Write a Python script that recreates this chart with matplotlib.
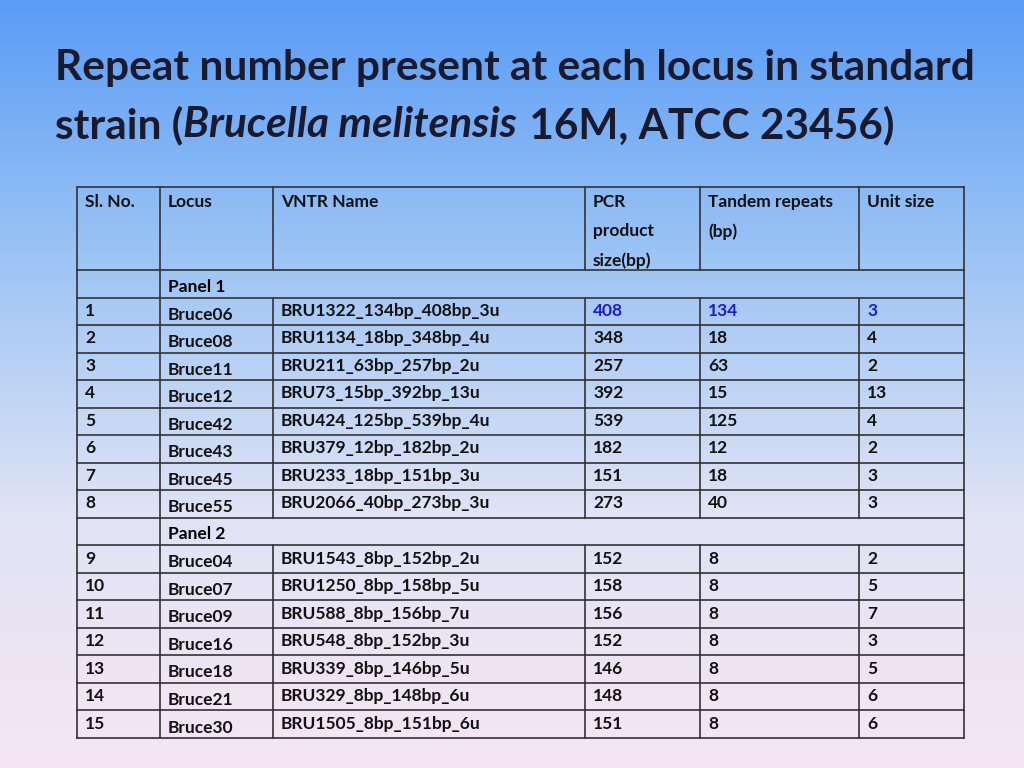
import numpy as np
import matplotlib.pyplot as plt
from matplotlib.colors import LinearSegmentedColormap

title_line1 = "Repeat number present at each locus in standard"
title_parts = [("strain (", 'normal'), ("Brucella melitensis", 'italic'), (" 16M, ATCC 23456)", 'normal')]
header = ["Sl. No.", "Locus", "VNTR Name", "PCR\nproduct\nsize(bp)", "Tandem repeats\n(bp)", "Unit size"]

sl_no = [str(i) for i in range(1, 16)]
locus = ["Bruce06", "Bruce08", "Bruce11", "Bruce12", "Bruce42", "Bruce43", "Bruce45", "Bruce55",
         "Bruce04", "Bruce07", "Bruce09", "Bruce16", "Bruce18", "Bruce21", "Bruce30"]
vntr = ["BRU1322_134bp_408bp_3u", "BRU1134_18bp_348bp_4u", "BRU211_63bp_257bp_2u",
        "BRU73_15bp_392bp_13u", "BRU424_125bp_539bp_4u", "BRU379_12bp_182bp_2u",
        "BRU233_18bp_151bp_3u", "BRU2066_40bp_273bp_3u",
        "BRU1543_8bp_152bp_2u", "BRU1250_8bp_158bp_5u", "BRU588_8bp_156bp_7u",
        "BRU548_8bp_152bp_3u", "BRU339_8bp_146bp_5u", "BRU329_8bp_148bp_6u", "BRU1505_8bp_151bp_6u"]
pcr = [408, 348, 257, 392, 539, 182, 151, 273, 152, 158, 156, 152, 146, 148, 151]
tandem = [134, 18, 63, 15, 125, 12, 18, 40, 8, 8, 8, 8, 8, 8, 8]
unit = [3, 4, 2, 13, 4, 2, 3, 3, 2, 5, 7, 3, 5, 6, 6]
panels = {0: "Panel 1", 8: "Panel 2"}

plt.rcParams['font.family'] = ['Lato', 'DejaVu Sans']
fig = plt.figure(figsize=(10.24, 7.68), dpi=100)
ax = fig.add_axes([0, 0, 1, 1])
ax.set_xlim(0, 1024)
ax.set_ylim(768, 0)
ax.axis('off')

cmap = LinearSegmentedColormap.from_list('bg', ['#5a9cf6', '#9cc4f4', '#dfe3f5', '#f6e6f3'])
grad = np.linspace(0, 1, 256).reshape(-1, 1)
ax.imshow(grad, cmap=cmap, extent=[0, 1024, 768, 0], aspect='auto', zorder=0)

tfs = 30.5
tcol = '#1a1a2e'
ax.text(55, 68, title_line1, fontsize=tfs, fontweight='bold', color=tcol, va='center')
# second title line built from pieces so the italic part stays bold
fig.canvas.draw()
renderer = fig.canvas.get_renderer()
x = 55
for s, style in title_parts:
    t = ax.text(x, 125, s, fontsize=tfs, fontweight='bold', style=style, color=tcol, va='center')
    bb = t.get_window_extent(renderer)
    x += bb.width * 1024 / fig.bbox.width
    if style == 'italic':
        x += 2

xs = [77, 160, 273, 585, 700, 859, 964]
top, hb, bottom = 187, 270, 738
nrows = 17
rh = (bottom - hb) / nrows
lc = '#333333'
lw = 1.2
fs = 12.5

ax.plot([xs[0], xs[-1]], [top, top], color=lc, lw=lw)
for x in xs:
    ax.plot([x, x], [top, hb], color=lc, lw=lw)
for x in (xs[0], xs[1], xs[-1]):
    ax.plot([x, x], [hb, bottom], color=lc, lw=lw)
for i, h in enumerate(header):
    ax.text(xs[i] + 8, top + 7, h, fontsize=fs, fontweight='bold', va='top', ha='left',
            linespacing=2.0, color='#111111')

r = 0
for k in range(15):
    if k in panels:
        y0 = hb + r * rh
        ax.plot([xs[0], xs[-1]], [y0, y0], color=lc, lw=lw)
        ax.text(xs[1] + 8, y0 + rh * 0.6, panels[k], fontsize=fs, fontweight='bold', va='center')
        r += 1
    y0 = hb + r * rh
    ax.plot([xs[0], xs[-1]], [y0, y0], color=lc, lw=lw)
    for x in xs[2:-1]:
        ax.plot([x, x], [y0, y0 + rh], color=lc, lw=lw)
    col = '#1c1cd6' if k == 0 else '#111111'
    vals = [sl_no[k], locus[k], vntr[k], str(pcr[k]), str(tandem[k]), str(unit[k])]
    for i, v in enumerate(vals):
        yy = y0 + rh * (0.62 if i == 1 else 0.48)
        c = col if i >= 3 else '#111111'
        ax.text(xs[i] + 8, yy, v, fontsize=fs, fontweight='bold', va='center', color=c)
    r += 1
ax.plot([xs[0], xs[-1]], [bottom, bottom], color=lc, lw=lw)

fig.savefig('out.png', dpi=100)
